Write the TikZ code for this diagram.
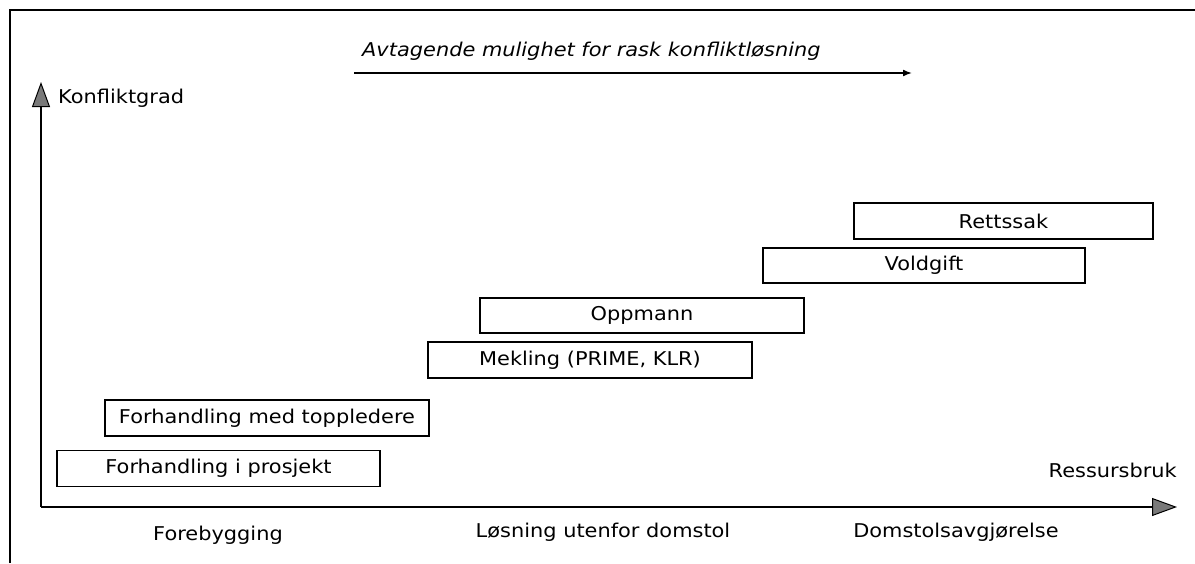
\documentclass[tikz,border=0pt]{standalone}
\usepackage{fontspec}
\setmainfont{DejaVu Sans}[FakeStretch=1.1]
\usetikzlibrary{arrows.meta}
\begin{document}
\begin{tikzpicture}[x=1pt,y=-1pt,
  txt/.style={font=\fontsize{19}{22}\selectfont, inner sep=0pt},
  stage/.style={draw, line width=1.2pt, txt, minimum width=#1, minimum height=36pt},
  axis/.style={line width=1.6pt, -{Triangle[length=25pt,width=18pt,fill=gray!95!black,line width=1pt]}},
  trend/.style={line width=1.6pt, -{Latex[length=9pt,width=7pt]}},
  frameline/.style={line width=2pt}]
\useasboundingbox (0,0) rectangle (1195,563);

% outer frame (top and left edges)
\coordinate (fbl) at (10,563);
\coordinate (ftl) at (10,10);
\coordinate (ftr) at (1195,10);
\draw[frameline] (fbl) -- (ftl) -- (ftr);

% axes
\coordinate (O) at (41,507);
\coordinate (ytip) at (41,82);
\coordinate (xtip) at (1177,507);
\draw[axis] (O) -- (ytip);
\draw[axis] (O) -- (xtip);
\node[txt, anchor=west] (ylab) at (58,98) {Konfliktgrad};
\node[txt, anchor=east] (xlab) at (1177,470) {Ressursbruk};

% trend arrow
\coordinate (ta) at (354,73);
\coordinate (tb) at (912,73);
\draw[trend] (ta) -- (tb);
\node[txt, anchor=west, font=\fontsize{19}{22}\selectfont\itshape] (trendlab) at (362,51) {Avtagende mulighet for rask konfliktløsning};

% escalation stages
\node[stage=323pt] (s1) at (218.5,468.5) {Forhandling i prosjekt};
\node[stage=324pt] (s2) at (267,418) {Forhandling med toppledere};
\node[stage=324pt] (s3) at (590,360) {Mekling (PRIME, KLR)};
\node[stage=324pt, minimum height=35pt] (s4) at (642,315.5) {Oppmann};
\node[stage=322pt, minimum height=35pt] (s5) at (924,265.5) {Voldgift};
\node[stage=299pt] (s6) at (1003.5,221) {Rettssak};

% phase labels
\node[txt] (p1) at (218,535) {Forebygging};
\node[txt] (p2) at (603,532) {Løsning utenfor domstol};
\node[txt] (p3) at (956,532) {Domstolsavgjørelse};
\end{tikzpicture}
\end{document}
